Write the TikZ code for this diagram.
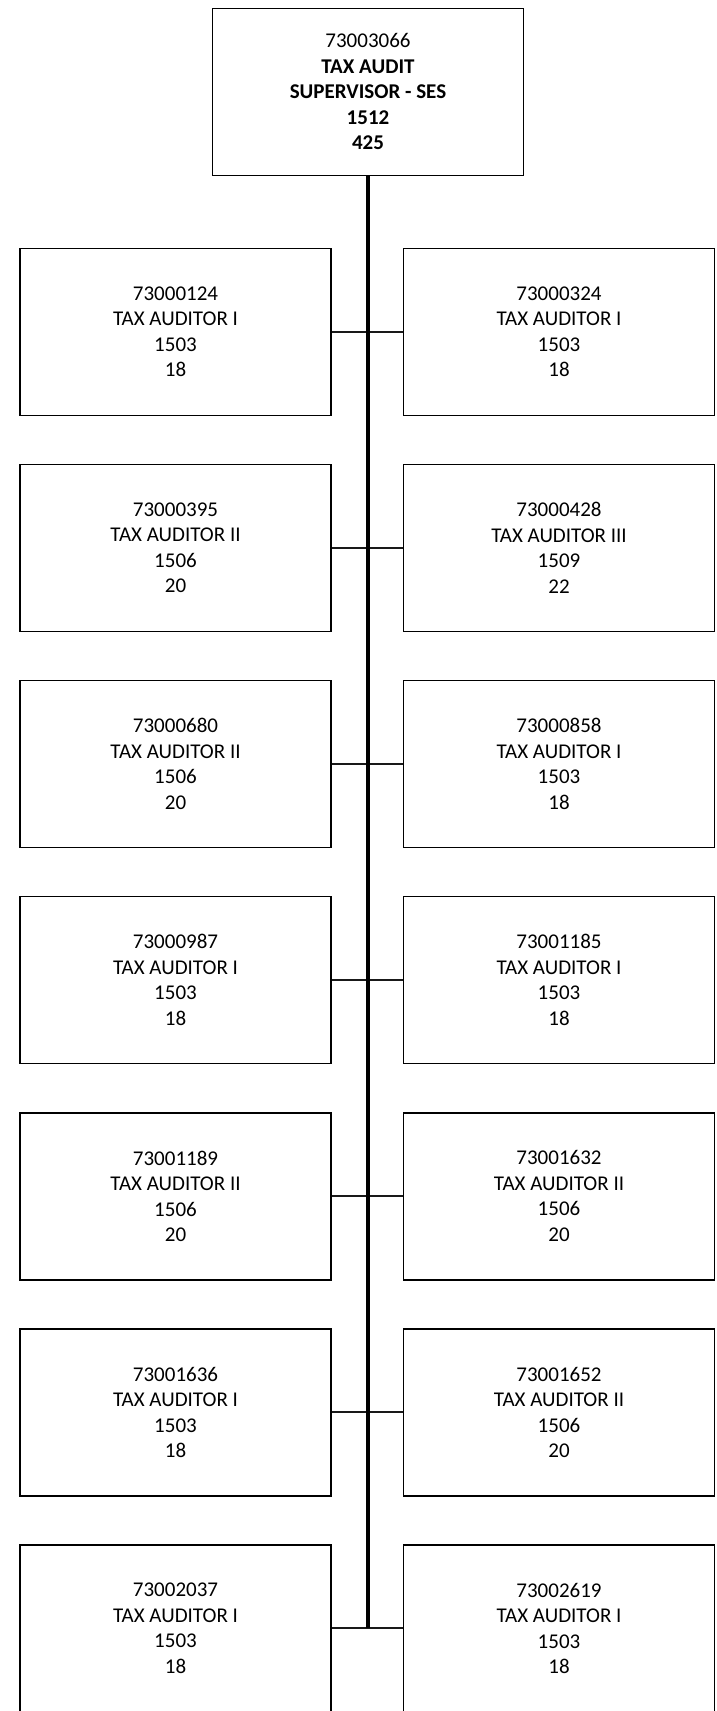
\documentclass[tikz,border=0pt]{standalone}
\usepackage{fontspec}
\setmainfont{Carlito}
\begin{document}
\begin{tikzpicture}[x=1pt,y=-1pt,
  box/.style={draw, line width=1.6pt, minimum width=311pt, minimum height=167pt,
    inner sep=0pt, align=center, font=\fontsize{21}{25.5}\selectfont},
  link/.style={draw=black!90, line width=2pt},
  trunk/.style={draw, line width=3.6pt}]
\useasboundingbox (0,0) rectangle (716,1711);

% head of the unit
\node[box] (top) at (368,91.8)
  {73003066\\ \textbf{TAX AUDIT}\\ \textbf{SUPERVISOR - SES}\\ \textbf{1512}\\ \textbf{425}};

% staff positions, two per row
\node[box] (L1) at (175.5,331.8) {73000124\\TAX AUDITOR I\\1503\\18};
\node[box] (R1) at (559,331.8)   {73000324\\TAX AUDITOR I\\1503\\18};
\node[box] (L2) at (175.5,547.9) {73000395\\TAX AUDITOR II\\1506\\20};
\node[box] (R2) at (559,547.9)   {73000428\\TAX AUDITOR III\\1509\\22};
\node[box] (L3) at (175.5,764.0) {73000680\\TAX AUDITOR II\\1506\\20};
\node[box] (R3) at (559,764.0)   {73000858\\TAX AUDITOR I\\1503\\18};
\node[box] (L4) at (175.5,980.1) {73000987\\TAX AUDITOR I\\1503\\18};
\node[box] (R4) at (559,980.1)   {73001185\\TAX AUDITOR I\\1503\\18};
\node[box] (L5) at (175.5,1196.2) {73001189\\TAX AUDITOR II\\1506\\20};
\node[box] (R5) at (559,1196.2)   {73001632\\TAX AUDITOR II\\1506\\20};
\node[box] (L6) at (175.5,1412.3) {73001636\\TAX AUDITOR I\\1503\\18};
\node[box] (R6) at (559,1412.3)   {73001652\\TAX AUDITOR II\\1506\\20};
\node[box] (L7) at (175.5,1628.4) {73002037\\TAX AUDITOR I\\1503\\18};
\node[box] (R7) at (559,1628.4)   {73002619\\TAX AUDITOR I\\1503\\18};

% horizontal links between each pair
\foreach \i in {1,...,7} {
  \draw[link] (L\i.east) -- (R\i.west);
}

% vertical trunk from the head down to the last row
\coordinate (trunkend) at (top.south |- L7.east);
\draw[trunk] (top.south) -- (trunkend);
\end{tikzpicture}
\end{document}
